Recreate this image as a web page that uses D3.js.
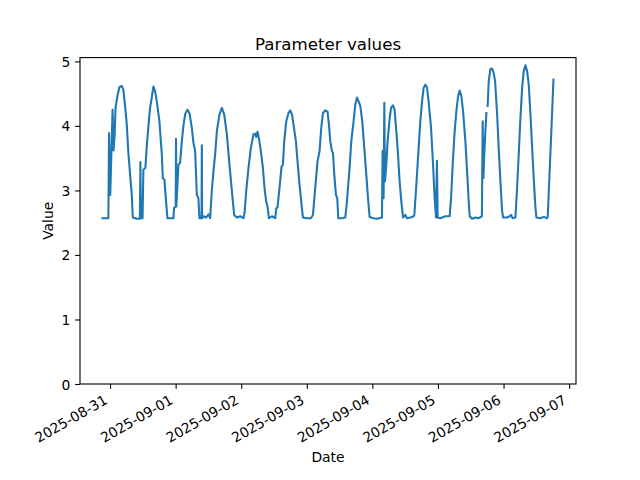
<!DOCTYPE html>
<html><head><meta charset="utf-8">
<script src="https://cdn.jsdelivr.net/npm/d3@7"></script>
<style>body{margin:0;background:#fff}svg{display:block}text{font-family:"DejaVu Sans",sans-serif}</style>
</head><body>
<svg id="c" width="640" height="480"></svg>
<script>
// Hours since 2025-08-31T00:00Z
const startDate = "2025-08-31T00:00:00Z";
const hours = [
-2.75,-0.62,-0.37,0.07,0.92,1.28,1.65,2.01,2.67,3.41,4.29,4.87,5.49,6.12,6.70,7.33,7.95,8.32,
9.78,10.92,11.10,11.32,11.90,12.20,12.93,13.44,14.18,14.65,15.27,15.86,16.48,17.11,18.06,18.94,19.30,19.89,20.40,20.99,
23.19,23.44,24.03,24.14,24.25,25.02,25.64,26.26,26.85,27.47,28.32,29.05,29.93,30.51,31.14,31.76,32.34,32.71,33.48,33.59,33.70,
34.18,35.16,36.01,36.63,37.25,37.84,38.46,39.08,40.04,40.92,41.76,42.75,43.59,44.58,45.42,46.41,47.62,48.83,
49.27,49.82,50.66,51.54,52.49,53.11,53.48,53.96,54.47,55.20,55.93,56.52,57.14,57.62,58.13,59.23,60.44,60.81,61.28,
62.01,62.75,63.26,63.74,64.47,65.31,65.93,66.56,67.14,68.02,68.61,69.34,69.96,70.59,72.05,73.52,74.25,
75.09,75.93,76.67,77.29,77.91,78.75,79.60,80.11,80.59,81.21,81.58,82.05,82.67,83.15,83.52,84.87,86.08,
86.70,86.92,87.66,88.28,89.12,89.74,90.37,90.95,91.58,92.31,93.04,93.77,94.40,94.98,96.45,97.69,99.52,
99.74,100.11,100.37,100.62,101.10,101.58,102.20,102.82,103.55,104.14,104.76,105.38,105.97,106.59,107.22,108.06,108.68,109.89,111.10,111.36,
112.09,112.93,113.55,114.18,114.76,115.38,116.01,116.59,117.47,118.21,118.79,119.30,119.63,119.89,120.88,122.71,124.29,
124.80,125.38,126.12,126.74,127.36,127.95,128.57,129.19,130.04,130.66,131.25,131.61,132.49,133.70,134.91,136.08,136.37,136.63,137.00,137.36,137.73,
137.99,138.20,138.57,139.19,139.82,140.40,140.92,141.65,142.23,142.86,143.48,143.85,145.31,146.26,146.78,147.25,148.35,
148.97,149.56,150.18,150.81,151.39,152.01,152.64,153.22,153.85,154.47,155.05,155.68,156.04,157.51,158.72,159.96,160.18,161.28,162.27
];
const values = [
2.57,2.57,3.89,2.93,4.25,3.62,3.85,4.28,4.46,4.60,4.62,4.56,4.31,4.02,3.58,3.25,2.93,2.58,
2.56,2.56,3.44,2.57,2.57,3.32,3.35,3.69,4.07,4.28,4.44,4.61,4.54,4.38,4.07,3.56,3.19,3.17,2.88,2.57,
2.57,2.73,2.75,3.80,2.75,3.40,3.43,3.76,4.00,4.18,4.25,4.20,3.97,3.74,3.61,2.93,2.88,2.57,2.57,3.70,2.57,
2.60,2.58,2.63,2.57,3.00,3.30,3.56,3.92,4.18,4.28,4.18,3.87,3.45,2.99,2.62,2.58,2.60,2.57,
2.67,2.99,3.35,3.66,3.87,3.88,3.83,3.91,3.81,3.61,3.35,3.04,2.83,2.75,2.57,2.60,2.57,2.72,2.74,
3.04,3.37,3.40,3.76,4.07,4.20,4.24,4.18,4.02,3.76,3.45,3.09,2.83,2.58,2.57,2.57,2.62,
3.04,3.45,3.61,3.97,4.20,4.24,4.22,4.02,3.76,3.61,3.58,3.25,2.93,2.88,2.57,2.57,2.58,
2.83,2.96,3.35,3.76,4.07,4.33,4.44,4.38,4.31,4.07,3.66,3.25,2.88,2.59,2.57,2.56,2.58,
3.61,2.88,4.36,3.14,3.40,3.76,4.07,4.28,4.32,4.25,3.92,3.56,3.14,2.83,2.58,2.62,2.57,2.58,2.60,2.62,
3.09,3.66,4.07,4.38,4.59,4.64,4.59,4.38,3.97,3.40,2.88,2.58,3.46,2.58,2.57,2.60,2.60,
2.88,3.40,3.92,4.23,4.46,4.55,4.46,4.23,3.76,3.30,2.83,2.60,2.56,2.58,2.57,2.60,4.07,3.19,3.61,3.92,4.20,
null,4.31,4.69,4.88,4.89,4.82,4.69,4.18,3.66,3.14,2.68,2.58,2.58,2.60,2.62,2.57,2.58,
3.04,3.56,4.12,4.59,4.85,4.94,4.85,4.64,4.18,3.66,3.19,2.73,2.58,2.57,2.59,2.57,2.60,3.70,4.72
];
const xTickLabels = ["2025-08-31","2025-09-01","2025-09-02","2025-09-03","2025-09-04","2025-09-05","2025-09-06","2025-09-07"];
const yTicks = [0,1,2,3,4,5];
const titleText = "Parameter values", xLabel = "Date", yLabel = "Value";

const t0 = new Date(startDate).getTime();
const data = hours.map((h,i)=>({t:new Date(t0 + h*3600e3), v:values[i]}));

const L=80, R=576, T=57.6, B=384;
const svg = d3.select("#c");
const tExt = d3.extent(data, d=>d.t.getTime());
const tPad = (tExt[1]-tExt[0])*0.05;
const x = d3.scaleUtc().domain([new Date(tExt[0]-tPad), new Date(tExt[1]+tPad)]).range([L,R]);
const vv = values.filter(v=>v!=null);
const vmax = d3.max(vv), vmin = d3.min(vv);
const y = d3.scaleLinear().domain([0, vmax + 0.05*(vmax-vmin)]).range([B,T]);

const fs = 13.89;
// line
svg.append("path").datum(data)
  .attr("fill","none").attr("stroke","#1f77b4").attr("stroke-width",2.08)
  .attr("stroke-linejoin","round").attr("stroke-linecap","square")
  .attr("d", d3.line().defined(d=>d.v!=null).x(d=>x(d.t)).y(d=>y(d.v)));

// frame
svg.append("rect").attr("x",L).attr("y",T).attr("width",R-L).attr("height",B-T)
  .attr("fill","none").attr("stroke","#000").attr("stroke-width",1.11);

// y axis
const yAxis = d3.axisLeft(y).tickValues(yTicks).tickSize(4.86).tickPadding(4.86).tickFormat(d3.format("d"));
const gy = svg.append("g").attr("transform",`translate(${L},0)`).call(yAxis);
gy.select(".domain").remove();
gy.selectAll(".tick line").attr("stroke","#000").attr("stroke-width",1.11);
gy.selectAll(".tick text").attr("font-size",fs).attr("fill","#000").attr("font-family","DejaVu Sans").attr("dy","0.36em");

// x axis
const xDates = xTickLabels.map(s=>new Date(s+"T00:00:00Z"));
const xAxis = d3.axisBottom(x).tickValues(xDates).tickSize(4.86).tickFormat("");
const gx = svg.append("g").attr("transform",`translate(0,${B})`).call(xAxis);
gx.select(".domain").remove();
gx.selectAll(".tick line").attr("stroke","#000").attr("stroke-width",1.11);
svg.append("g").selectAll("text").data(xDates).join("text")
  .attr("transform",d=>`translate(${x(d)-1.65},${402.8}) rotate(-30)`)
  .attr("text-anchor","end").attr("font-size",fs).attr("fill","#000")
  .text((d,i)=>xTickLabels[i]);

// labels
svg.append("text").attr("x",(L+R)/2).attr("y",49.5).attr("text-anchor","middle")
  .attr("font-size",16.67).attr("fill","#000").text(titleText);
svg.append("text").attr("x",(L+R)/2).attr("y",462).attr("text-anchor","middle")
  .attr("font-size",fs).attr("fill","#000").text(xLabel);
svg.append("text").attr("transform",`translate(52.5,${(T+B)/2}) rotate(-90)`).attr("text-anchor","middle")
  .attr("font-size",fs).attr("fill","#000").text(yLabel);
</script>
</body></html>
